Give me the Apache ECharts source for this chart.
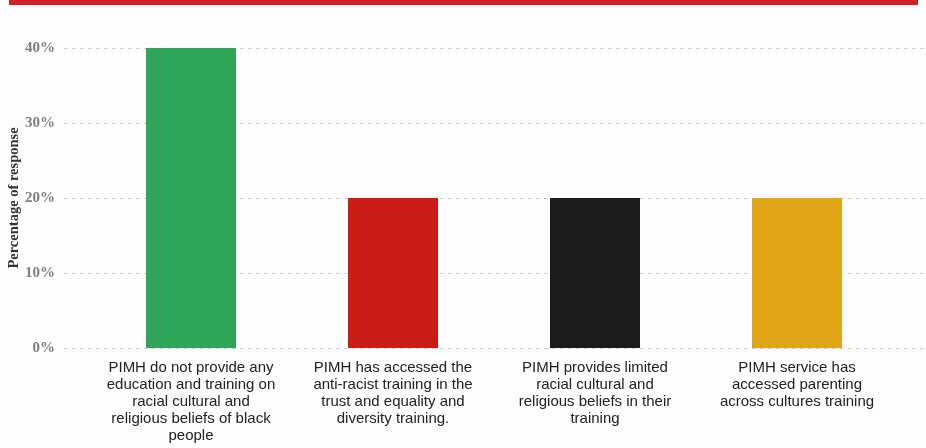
<!DOCTYPE html>
<html>
<head>
<meta charset="utf-8">
<script src="https://cdn.jsdelivr.net/npm/echarts@6/dist/echarts.min.js"></script>
<style>
  html, body { margin: 0; padding: 0; background: #fdfdfd; }
  #chart { width: 926px; height: 448px; }
</style>
</head>
<body>
<div id="chart"></div>
<script>
// Survey answers about PIMH training (share of responses)
const categories = [
  'PIMH do not provide any\neducation and training on\nracial cultural and\nreligious beliefs of black\npeople',
  'PIMH has accessed the\nanti-racist training in the\ntrust and equality and\ndiversity training.',
  'PIMH provides limited\nracial cultural and\nreligious beliefs in their\ntraining',
  'PIMH service has\naccessed parenting\nacross cultures training'
];
const responseShare = [40, 20, 20, 20];
const barColors = ['#2fa55a', '#cc1c17', '#1b1b1b', '#e2a619'];
const yTicks = [0, 10, 20, 30, 40];

const chart = echarts.init(document.getElementById('chart'));

const TOP = 48, BOTTOM = 100;

chart.setOption({
  backgroundColor: '#fdfdfd',
  animation: false,
  graphic: [{
    type: 'rect',
    shape: { x: 9, y: 0, width: 909, height: 5 },
    style: { fill: '#d11f2a' }
  }],
  grid: [
    // bars
    { left: 90, right: 28, top: TOP, bottom: BOTTOM, outerBoundsMode: 'none', containLabel: false },
    // wider panel carrying the dashed guides and the percentage scale
    { left: 64, right: 0, top: TOP, bottom: BOTTOM, outerBoundsMode: 'none', containLabel: false }
  ],
  xAxis: [
    {
      gridIndex: 0,
      type: 'category',
      data: categories,
      axisLine: { show: false },
      axisTick: { show: false },
      axisLabel: {
        interval: 0,
        margin: 11,
        color: '#222',
        fontFamily: 'Liberation Sans, Arial, sans-serif',
        fontSize: 15,
        lineHeight: 17,
        align: 'center'
      }
    },
    { gridIndex: 1, type: 'value', min: 0, max: 1, show: false }
  ],
  yAxis: [
    { gridIndex: 0, type: 'value', min: yTicks[0], max: yTicks[yTicks.length - 1], interval: 10, show: false },
    {
      gridIndex: 1,
      type: 'value',
      min: yTicks[0],
      max: yTicks[yTicks.length - 1],
      interval: 10,
      name: 'Percentage of response',
      nameLocation: 'middle',
      nameGap: 42,
      nameRotate: 90,
      nameMoveOverlap: false,
      nameTextStyle: {
        fontFamily: 'Liberation Serif, Times New Roman, serif',
        fontWeight: 'bold',
        fontSize: 14.5,
        color: '#333'
      },
      axisLine: { show: false },
      axisTick: { show: false },
      axisLabel: {
        margin: 9,
        formatter: '{value}%',
        fontFamily: 'Liberation Serif, Times New Roman, serif',
        fontWeight: 'bold',
        fontSize: 15,
        color: '#7e7e7e'
      },
      splitLine: {
        show: true,
        lineStyle: { color: '#cfcfcf', type: [4, 4], width: 1 }
      }
    }
  ],
  series: [{
    type: 'bar',
    xAxisIndex: 0,
    yAxisIndex: 0,
    barWidth: 90,
    data: responseShare.map((v, i) => ({ value: v, itemStyle: { color: barColors[i] } }))
  }]
});
</script>
</body>
</html>
